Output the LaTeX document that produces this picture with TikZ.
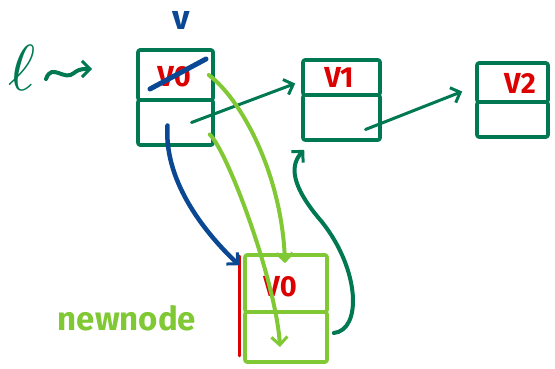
\documentclass[tikz,border=0pt]{standalone}
\usepackage{fontspec}
\setmainfont{Fira Sans}
\usetikzlibrary{arrows.meta,calc}
\definecolor{dkg}{RGB}{0,120,82}
\definecolor{ltg}{RGB}{128,200,52}
\definecolor{pblue}{RGB}{10,72,148}
\definecolor{pred}{RGB}{220,0,0}
\tikzset{
  cell/.style={draw=#1, line width=3.6pt, rounded corners=2pt, inner sep=0pt, line join=round},
  lbl/.style={text=pred, font=\fontsize{29}{29}\selectfont\bfseries, inner sep=0pt},
  pen/.style={line width=#1, line cap=round, line join=round},
  barb/.style={-{Straight Barb[length=8pt,width=16pt,line width=3pt]}},
}
\begin{document}
\begin{tikzpicture}[x=1pt,y=-1pt]
\useasboundingbox (0,0) rectangle (555,369);
% v0 box
\node[cell=dkg, minimum width=75pt, minimum height=50pt] (v0d) at (175.5,75) {};
\node[lbl] (v0t) at (174,77) {V0};
\node[cell=dkg, minimum width=75pt, minimum height=45pt] (v0n) at (175.5,122.5) {};
% v1 box
\node[cell=dkg, minimum width=77pt, minimum height=35pt] (v1d) at (341.5,77.5) {};
\node[lbl] (v1t) at (339,77) {V1};
\node[cell=dkg, minimum width=77pt, minimum height=45pt] (v1n) at (341.5,117.5) {};
% v2 box
\node[cell=dkg, minimum width=71pt, minimum height=39pt] (v2d) at (512.5,82.5) {};
\node[lbl] (v2t) at (520,83) {V2};
\node[cell=dkg, minimum width=71pt, minimum height=35pt] (v2n) at (512.5,119.5) {};
% new node box
\node[cell=ltg, minimum width=82pt, minimum height=57pt] (nnd) at (286,283.5) {};
\node[lbl] (nnt) at (280,287) {V0};
\node[cell=ltg, minimum width=82pt, minimum height=50pt] (nnn) at (286,337) {};
\draw[pred, pen=3pt] ($(nnd.north west)+(-4,3)$) -- ($(nnn.south west)+(-4,-8)$);
% labels
\node[text=pblue, font=\fontsize{34}{34}\selectfont\bfseries, inner sep=0pt] (vl) at (181,20) {v};
\node[text=dkg, scale=6.5, inner sep=0pt] (ell) at (22,68) {$\ell$};
\coordinate (sq) at (92,69);
\draw[dkg, pen=4pt, barb] (46,79) .. controls (52,62) and (64,82) .. (74,73) .. controls (80,68) and (86,69) .. (sq);
\node[text=ltg, font=\fontsize{33}{33}\selectfont\bfseries, inner sep=0pt] (nlbl) at (127,318) {newnode};
% strike-through
\draw[pblue, pen=5pt] (150,89) -- (206,59);
% connectors
\draw[dkg, pen=3pt, barb] ($(v0n.center)+(16,0)$) -- ($(v1d.west)+(-6,6)$);
\draw[dkg, pen=3pt, barb] ($(v1n.center)+(24,12)$) -- ($(v2d.west)+(-13,9)$);
\draw[pblue, pen=4.5pt, barb] ($(v0n.center)+(-8,3)$) .. controls (164,178) and (200,228) .. ($(nnd.north west)+(-4,12)$);
\draw[ltg, pen=4pt, barb] ($(v0d.east)+(-6,0)$) .. controls (242,100) and (282,175) .. ($(nnd.north)+(-1,10)$);
\draw[ltg, pen=4pt, barb] ($(v0n.east)+(-5,12)$) .. controls (228,152) and (276,282) .. ($(nnn.center)+(-6,10)$);
\draw[dkg, pen=4pt, barb] ($(nnn.east)+(5,-4)$) .. controls (362,330) and (360,270) .. (322,222) .. controls (290,185) and (290,165) .. ($(v1n.south west)+(3,8)$);
\end{tikzpicture}
\end{document}
